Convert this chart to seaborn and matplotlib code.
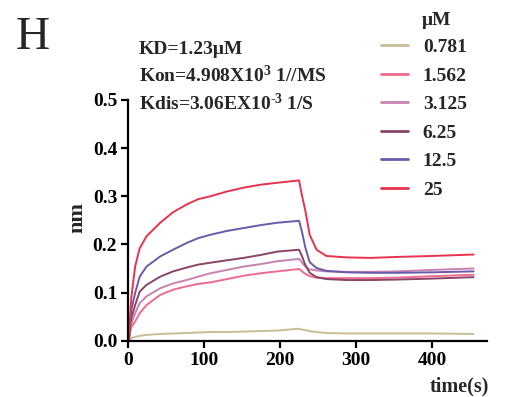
import numpy as np
import pandas as pd
import matplotlib
matplotlib.use("Agg")
import matplotlib.pyplot as plt
import seaborn as sns

# ---- data ----
time_s = [1, 2, 4, 9, 15, 24, 42, 59, 77, 92, 108, 130, 152, 174, 196, 225,
          229, 233, 239, 248, 261, 288, 320, 354, 400, 455]
c_0781 = [0.002, 0.003, 0.005, 0.008, 0.010, 0.012, 0.014, 0.015, 0.016, 0.017,
          0.018, 0.018, 0.019, 0.020, 0.021, 0.025, 0.023, 0.022, 0.020, 0.018,
          0.016, 0.015, 0.015, 0.015, 0.015, 0.014]
c_1562 = [0.003, 0.015, 0.028, 0.040, 0.057, 0.074, 0.095, 0.106, 0.113, 0.118,
          0.121, 0.128, 0.135, 0.140, 0.144, 0.149, 0.144, 0.139, 0.134, 0.131,
          0.130, 0.130, 0.130, 0.131, 0.134, 0.137]
c_3125 = [0.004, 0.020, 0.036, 0.057, 0.078, 0.092, 0.109, 0.119, 0.126, 0.133,
          0.140, 0.147, 0.154, 0.159, 0.165, 0.170, 0.162, 0.154, 0.148, 0.146,
          0.144, 0.143, 0.143, 0.144, 0.147, 0.150]
c_625 = [0.005, 0.025, 0.047, 0.074, 0.102, 0.116, 0.133, 0.144, 0.152, 0.158,
         0.162, 0.167, 0.172, 0.178, 0.185, 0.189, 0.175, 0.158, 0.141, 0.132,
         0.128, 0.126, 0.126, 0.127, 0.129, 0.132]
c_125 = [0.005, 0.030, 0.064, 0.099, 0.133, 0.154, 0.175, 0.189, 0.203, 0.213,
         0.220, 0.228, 0.234, 0.240, 0.245, 0.249, 0.225, 0.195, 0.163, 0.151,
         0.145, 0.142, 0.141, 0.141, 0.142, 0.144]
c_25 = [0.005, 0.040, 0.090, 0.154, 0.192, 0.217, 0.245, 0.267, 0.283, 0.294,
        0.300, 0.310, 0.318, 0.324, 0.328, 0.333, 0.300, 0.272, 0.220, 0.189,
        0.176, 0.173, 0.172, 0.174, 0.176, 0.179]

conc_labels = ["0.781", "1.562", "3.125", "6.25", "12.5", "25"]
series = [c_0781, c_1562, c_3125, c_625, c_125, c_25]
colors = ["#c8bd95", "#ee6b8d", "#c882b0", "#8a4468", "#6a5aaa", "#e8334f"]
x_ticks = [0, 100, 200, 300, 400]
y_ticks = [0.0, 0.1, 0.2, 0.3, 0.4, 0.5]

frames = []
for lab, vals in zip(conc_labels, series):
    frames.append(pd.DataFrame({"time": time_s, "nm": vals, "conc": lab}))
df = pd.concat(frames, ignore_index=True)

sns.set_style("ticks")
serif = ["Liberation Serif", "DejaVu Serif"]
plt.rcParams["font.family"] = serif
plt.rcParams["font.weight"] = "bold"
plt.rcParams["mathtext.fontset"] = "custom"
plt.rcParams["mathtext.rm"] = "Liberation Serif:bold"
plt.rcParams["mathtext.bf"] = "Liberation Serif:bold"
plt.rcParams["mathtext.it"] = "Liberation Serif:bold"

W, H = 515, 397
fig = plt.figure(figsize=(W / 100, H / 100), dpi=100)
fig.patch.set_facecolor("white")
ax = fig.add_axes([128.3 / W, 1 - 340.7 / H, (487.3 - 128.3) / W, (340.7 - 100) / H])

sns.lineplot(data=df, x="time", y="nm", hue="conc", hue_order=conc_labels,
             palette=dict(zip(conc_labels, colors)), linewidth=1.4, ax=ax,
             legend=True)

ax.set_xlim(0, 473)
ax.set_ylim(0, 0.5)
ax.set_xticks(x_ticks)
ax.set_yticks(y_ticks)
ax.set_xticklabels([str(v) for v in x_ticks])
ax.set_yticklabels([f"{v:.1f}" for v in y_ticks])
ax.set_xlabel("")
ax.set_ylabel("")
for s in ["top", "right"]:
    ax.spines[s].set_visible(False)
for s in ["left", "bottom"]:
    ax.spines[s].set_linewidth(1.6)
    ax.spines[s].set_color("black")
ax.tick_params(axis="both", width=1.6, length=5, labelsize=14, pad=3, colors="black")
for lbl in ax.get_xticklabels() + ax.get_yticklabels():
    lbl.set_fontweight("bold")
    lbl.set_family(serif)

handles, labels = ax.get_legend_handles_labels()
ax.get_legend().remove()
leg = fig.legend(handles, labels, loc="upper left",
                 bbox_to_anchor=(381 / W, 1 - 38.5 / H), frameon=False,
                 prop={"family": serif, "weight": "bold", "size": 14},
                 handlelength=1.4, handletextpad=0.75, labelspacing=0.56,
                 borderpad=0, borderaxespad=0)
for h in leg.get_lines():
    h.set_linewidth(2.0)

fig.text(422 / W, 1 - 25 / H, "μM", fontsize=14, fontweight="bold",
         family=serif, va="baseline", ha="left")
fig.text(16 / W, 1 - 49 / H, "H", fontsize=34, fontweight="normal",
         family=serif, va="baseline", ha="left")
fig.text(139 / W, 1 - 54.3 / H, "KD=1.23μM", fontsize=14, fontweight="bold",
         family=serif, va="baseline", ha="left")
fig.text(139 / W, 1 - 81.7 / H, r"Kon=4.908X10$^{3}$ 1//MS", fontsize=14,
         fontweight="bold", family=serif, va="baseline", ha="left")
fig.text(139 / W, 1 - 110 / H, r"Kdis=3.06EX10$^{\text{-}3}$ 1/S", fontsize=14,
         fontweight="bold", family=serif, va="baseline", ha="left")
fig.text(77 / W, 1 - 217.5 / H, "nm", fontsize=16, fontweight="bold",
         family=serif, rotation=90, va="center", ha="center")
fig.text(459 / W, 1 - 386 / H, "time(s)", fontsize=14.5, fontweight="bold",
         family=serif, va="center", ha="center")

fig.savefig("out.png", dpi=100, facecolor="white")
